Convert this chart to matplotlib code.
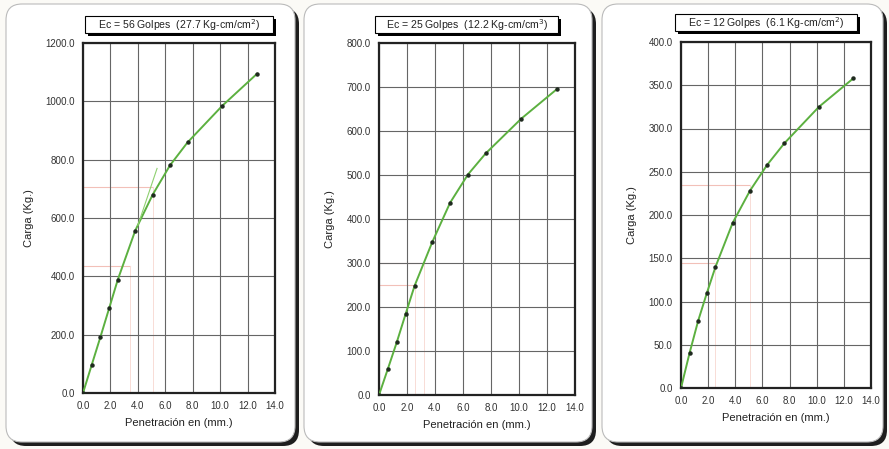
import numpy as np
import matplotlib
matplotlib.use("Agg")
import matplotlib.pyplot as plt
from matplotlib.patches import FancyBboxPatch, Rectangle

plt.rcParams['font.family'] = ['Liberation Sans', 'DejaVu Sans']

# penetration (mm) and load (Kg) for each compaction energy
penetracion = [0.0, 0.64, 1.27, 1.91, 2.54, 3.81, 5.08, 6.35, 7.62, 10.16, 12.70]
carga_56 = [0, 97, 192, 291, 389, 557, 680, 781, 859, 985, 1095]
carga_25 = [0, 60, 120, 185, 248, 348, 437, 501, 549, 628, 695]
carga_12 = [0, 41, 78, 110, 140, 191, 228, 258, 283, 325, 358]

titulos = ["Ec = 56 Golpes  (27.7 Kg-cm/cm$^2$)",
           "Ec = 25 Golpes  (12.2 Kg-cm/cm$^3$)",
           "Ec = 12 Golpes  (6.1 Kg-cm/cm$^2$)"]
y_max = [1200, 800, 400]
y_step = [200, 100, 50]
x_ticks = [0, 2, 4, 6, 8, 10, 12, 14]

# faint red correction lines (load value, penetration where it ends)
lineas_rojas = [[(705, 5.08), (435, 3.4)], [(250, 2.54), (300, 3.2)], [(145, 2.54), (235, 5.08)]]

W, H = 889, 449
fig = plt.figure(figsize=(W / 100, H / 100), dpi=100)
fig.patch.set_facecolor('#fbfaf6')

# background layer in pixel units
bg = fig.add_axes([0, 0, 1, 1], zorder=0)
bg.set_xlim(0, W)
bg.set_ylim(H, 0)
bg.axis('off')

paneles = [(6, 4, 289, 438), (304, 4, 288, 438), (602, 4, 281, 438)]
for (px, py, pw, ph) in paneles:
    bg.add_patch(FancyBboxPatch((px + 4, py + 4), pw, ph, boxstyle="round,pad=0,rounding_size=16",
                                fc='#1e1e1e', ec='none'))
    bg.add_patch(FancyBboxPatch((px, py), pw, ph, boxstyle="round,pad=0,rounding_size=16",
                                fc='white', ec='#bbbbbb', lw=0.8))

cajas = [(85, 16, 188, 17), (375, 16, 183, 17), (675, 14, 182, 17)]
for i, (bx, by, bw, bh) in enumerate(cajas):
    bg.add_patch(Rectangle((bx + 3, by + 3), bw, bh, fc='black', ec='none'))
    bg.add_patch(Rectangle((bx, by), bw, bh, fc='white', ec='black', lw=0.8))
    bg.text(bx + bw / 2, by + bh / 2 + 0.5, titulos[i], ha='center', va='center', fontsize=7.6,
            color='#222222')

ejes = [(83, 43, 275, 393), (379, 43, 575, 395), (681, 42, 871, 388)]
series = [carga_56, carga_25, carga_12]
for i, (l, t, r, b) in enumerate(ejes):
    ax = fig.add_axes([l / W, 1 - b / H, (r - l) / W, (b - t) / H], zorder=2)
    ax.set_xlim(0, 14)
    ax.set_ylim(0, y_max[i])
    ax.set_xticks(x_ticks)
    ax.set_xticklabels(["%.1f" % v for v in x_ticks])
    yt = np.arange(0, y_max[i] + 1, y_step[i])
    ax.set_yticks(yt)
    ax.set_yticklabels(["%.1f" % v for v in yt])
    ax.tick_params(length=0, labelsize=7, pad=6, colors='#333333')
    ax.grid(True, color='#666666', lw=0.8)
    for s in ax.spines.values():
        s.set_linewidth(1.6)
        s.set_color('#222222')

    for (yv, xe) in lineas_rojas[i]:
        ax.plot([0, xe], [yv, yv], color='#f2c0b8', lw=0.8, zorder=1)
        ax.plot([xe, xe], [0, yv], color='#f8dcd6', lw=0.7, zorder=1)

    ax.plot(penetracion, series[i], color='#5cb040', lw=1.4, zorder=3)
    ax.plot(penetracion, series[i], 'o', color='#1f2a1f', ms=2.2, zorder=4)

    if i == 0:
        ax.plot([4.0, 5.4], [575, 770], color='#8fd070', lw=0.8, zorder=3)

    ax.set_xlabel("Penetración en (mm.)", fontsize=8, labelpad=5, color='#222222')
    ax.set_ylabel("Carga (Kg.)", fontsize=8, labelpad=8, color='#222222')

fig.savefig("out.png", dpi=100)
